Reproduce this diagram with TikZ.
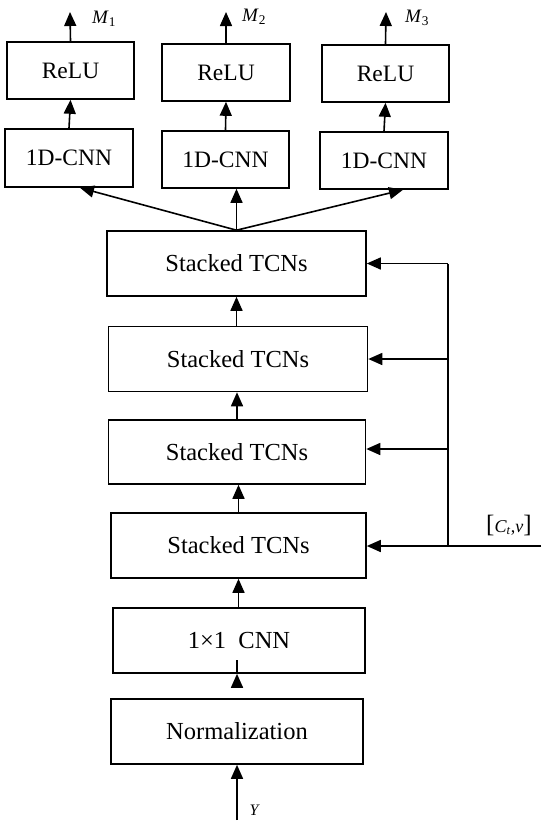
\documentclass[tikz,border=0pt]{standalone}
\usepackage{fontspec}
\setmainfont{Liberation Serif}
\usetikzlibrary{arrows.meta}
\begin{document}
\begin{tikzpicture}[x=1pt,y=-1pt,
  box/.style={draw,line width=1.6pt,inner sep=0pt,font=\fontsize{23.5}{26}\selectfont},
  arr/.style={line width=1.6pt,-{Triangle[length=14pt,width=12pt]}},
  ln/.style={line width=1.6pt},
  lab/.style={inner sep=0pt,font=\fontsize{19}{21}\selectfont}]
\useasboundingbox (0,0) rectangle (550,825);
% top row
\node[box,minimum width=127pt,minimum height=57pt] (r1) at (70.5,70.5) {ReLU};
\node[box,minimum width=128pt,minimum height=57pt] (r2) at (226,72.5) {ReLU};
\node[box,minimum width=127pt,minimum height=57pt] (r3) at (385.5,73.5) {ReLU};
\node[box,minimum width=128pt,minimum height=58pt] (c1) at (69,158) {1D-CNN};
\node[box,minimum width=127pt,minimum height=57pt] (c2) at (225.5,159.5) {1D-CNN};
\node[box,minimum width=128pt,minimum height=57pt] (c3) at (384,160.5) {1D-CNN};
% stack
\node[box,font=\fontsize{24.5}{27}\selectfont,minimum width=259pt,minimum height=65pt] (t1) at (236.5,263.5) {Stacked TCNs};
\node[box,font=\fontsize{24.5}{27}\selectfont,minimum width=259pt,minimum height=65pt] (t2) at (238,359) {Stacked TCNs};
\node[box,font=\fontsize{24.5}{27}\selectfont,minimum width=257pt,minimum height=64pt] (t3) at (237,452) {Stacked TCNs};
\node[box,font=\fontsize{24.5}{27}\selectfont,minimum width=255pt,minimum height=65pt] (t4) at (238.5,545.5) {Stacked TCNs};
\node[box,font=\fontsize{24.5}{27}\selectfont,minimum width=252pt,minimum height=65pt] (cnn) at (239,640.5) {1×1\ \ CNN};
\node[box,font=\fontsize{24.5}{27}\selectfont,minimum width=252pt,minimum height=65pt] (nrm) at (237,731.5) {Normalization};
% outputs
\coordinate (o1) at (70,12);
\coordinate (o2) at (226,12);
\coordinate (o3) at (386,12);
\draw[arr] (r1.north) -- (o1);
\draw[arr] (r2.north) -- (o2);
\draw[arr] (r3.north) -- (o3);
\node[lab,anchor=west] (m1) at (92,19) {\textit{M}\textsubscript{1}};
\node[lab,anchor=west] (m2) at (242,17) {\textit{M}\textsubscript{2}};
\node[lab,anchor=west] (m3) at (405,18) {\textit{M}\textsubscript{3}};
\draw[arr] (c1.north) -- (r1.south);
\draw[arr] (c2.north) -- (r2.south);
\draw[arr] (c3.north) -- (r3.south);
% fan
\draw[arr] (t1.north) -- ([xshift=11pt]c1.south);
\draw[arr] (t1.north) -- (t1.north |- c2.south);
\draw[arr] (t1.north) -- ([xshift=19pt]c3.south);
% stack arrows
\draw[arr] (t2.north -| t1.north) -- (t1.south);
\draw[arr] (t3.north) -- (t3.north |- t2.south);
\draw[arr] (t4.north) -- (t4.north |- t3.south);
\draw[arr] (cnn.north -| t4.north) -- (t4.south -| t4.north);
\draw[arr] (nrm.north |- cnn.south) -- (cnn.south -| nrm.north);
\coordinate (yin) at (237,820);
\draw[arr] (yin) -- (nrm.south);
\node[lab,font=\fontsize{16}{18}\selectfont\itshape] (ylab) at (254,810) {Y};
% feedback
\coordinate (fin) at (541,546);
\coordinate (fb) at (448,546);
\coordinate (ftop) at (448,263.5);
\draw[ln] (fb) -- (ftop);
\draw[arr] (fin) -- (t4.east |- fin);
\draw[arr] (448,263.5) -- (t1.east);
\draw[arr] (448,359) -- (t2.east);
\draw[arr] (448,449) -- (t3.east |- 0,449);
\node[lab,font=\fontsize{18}{20}\selectfont] (clab) at (509,525) {{\fontsize{25}{25}\selectfont[}\textit{C}\textsubscript{\textit{t}},\textit{v}{\fontsize{25}{25}\selectfont]}};
\end{tikzpicture}
\end{document}
